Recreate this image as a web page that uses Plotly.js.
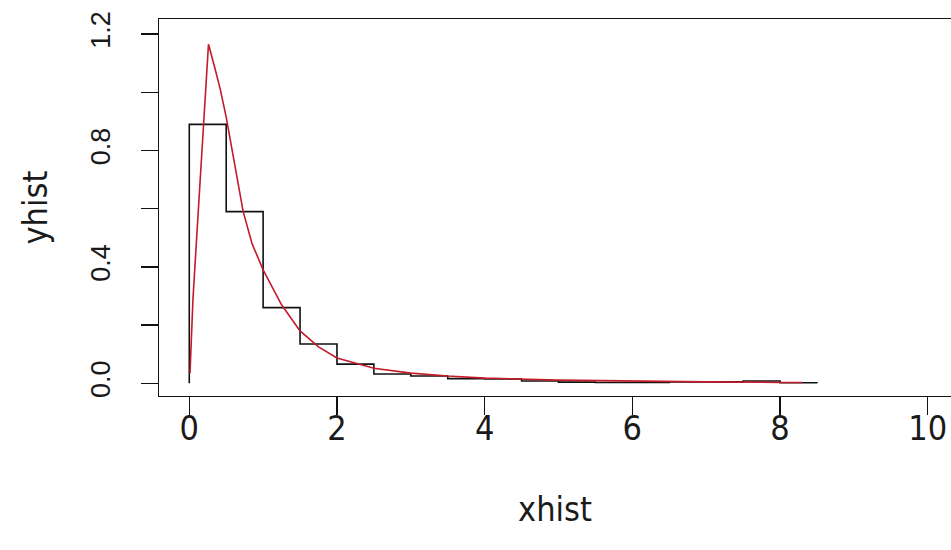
<!DOCTYPE html>
<html>
<head>
<meta charset="utf-8">
<script src="https://cdn.plot.ly/plotly-3.0.1.min.js"></script>
<style>
  html, body { margin: 0; padding: 0; background: #ffffff; overflow: hidden; }
  #chart { width: 951px; height: 550px; }
</style>
</head>
<body>
<div id="chart"></div>
<script>
// Histogram (density): bins of width 0.5 from 0 to 8.5
const binStarts = [0, 0.5, 1.0, 1.5, 2.0, 2.5, 3.0, 3.5, 4.0, 4.5, 5.0, 5.5, 6.0, 6.5, 7.0, 7.5, 8.0];
const binEnd = 8.5;
const densities = [0.89, 0.59, 0.26, 0.135, 0.066, 0.032, 0.025, 0.016, 0.015, 0.008, 0.004, 0.003, 0.003, 0.005, 0.005, 0.008, 0.002];

// Fitted curve (red)
const curveX = [0.01, 0.05, 0.1, 0.15, 0.2, 0.26, 0.35, 0.42, 0.5, 0.6, 0.73, 0.85, 1.0, 1.25, 1.5, 1.75, 2.0, 2.5, 3.0, 3.5, 4.0, 5.0, 6.0, 7.0, 8.0, 8.3];
const curveY = [0.035, 0.29, 0.50, 0.71, 0.93, 1.165, 1.08, 1.01, 0.915, 0.77, 0.59, 0.48, 0.39, 0.27, 0.18, 0.125, 0.087, 0.052, 0.035, 0.025, 0.018, 0.011, 0.007, 0.005, 0.003, 0.003];

// Axis ticks
const xTickVals = [0, 2, 4, 6, 8, 10];
const xTickText = ['0', '2', '4', '6', '8', '10'];
const yTickVals = [0, 0.2, 0.4, 0.6, 0.8, 1.0, 1.2];
const yTickText = ['0.0', '', '0.4', '', '0.8', '', '1.2'];

// Build step path: start at (0,0), rise to first density, step through bins, drop to 0 at the end
const stepX = [binStarts[0]].concat(binStarts).concat([binEnd]);
const stepY = [0].concat(densities).concat([0]);

const FONT = '"Liberation Sans", Arial, "DejaVu Sans", sans-serif';
const NARROW = '"Liberation Sans Narrow", "Arial Narrow", "DejaVu Sans Condensed", "Liberation Sans", sans-serif';
const TXT = '#1a1a1a';

const traces = [
  {
    x: stepX, y: stepY, type: 'scatter', mode: 'lines',
    line: { shape: 'hv', color: '#111111', width: 1.6 },
    hoverinfo: 'x+y', showlegend: false
  },
  {
    x: curveX, y: curveY, type: 'scatter', mode: 'lines',
    line: { color: '#c41a2a', width: 1.6 },
    hoverinfo: 'x+y', showlegend: false
  }
];

const layout = {
  width: 951, height: 550,
  margin: { l: 159, r: 0, t: 19, b: 154, pad: 0 },
  paper_bgcolor: '#ffffff', plot_bgcolor: '#ffffff',
  font: { family: FONT, size: 27, color: TXT },
  showlegend: false,
  xaxis: {
    range: [-0.41, 10.315],
    tickvals: xTickVals, ticktext: xTickText,
    ticks: 'outside', ticklen: 18, tickwidth: 1.3, tickcolor: '#111111',
    showline: true, linecolor: '#111111', linewidth: 1.4, mirror: true,
    showgrid: false, zeroline: false,
    tickfont: { family: NARROW, size: 34, color: TXT },
    ticklabelstandoff: -16,
    title: { text: 'xhist', font: { family: NARROW, size: 34, color: TXT }, standoff: 50 },
    automargin: false
  },
  yaxis: {
    range: [-0.0436, 1.252],
    tickvals: yTickVals, ticktext: yTickText,
    ticks: 'outside', ticklen: 17, tickwidth: 1.3, tickcolor: '#111111',
    showline: true, linecolor: '#111111', linewidth: 1.4, mirror: false,
    showgrid: false, zeroline: false,
    tickangle: -90,
    tickfont: { family: FONT, size: 27, color: TXT },
    ticklabelstandoff: 20,
    title: { text: 'yhist', font: { family: NARROW, size: 34, color: TXT }, standoff: 28 },
    automargin: false
  }
};

Plotly.newPlot('chart', traces, layout, { displayModeBar: false, staticPlot: true });
</script>
</body>
</html>
